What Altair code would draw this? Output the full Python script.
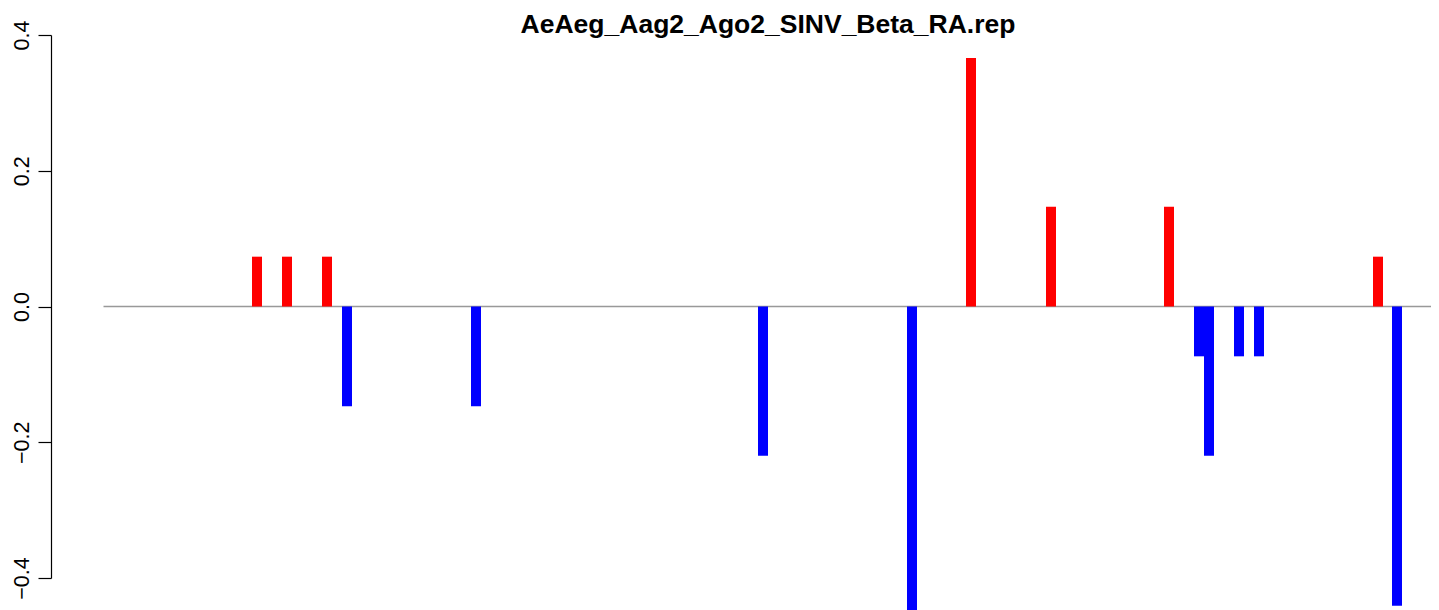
import altair as alt
import pandas as pd

title_text = ["AeAeg_Aag2_Ago2_SINV_Beta_RA.rep"]

# bar positions (horizontal position units) and values
positions = [206, 236, 276, 296, 425, 712, 861, 920, 1000, 1118, 1148, 1158, 1188, 1208, 1327, 1346]
values = [0.0734, 0.0734, 0.0734, -0.147, -0.147, -0.220, -0.450, 0.366, 0.147, 0.147,
          -0.0734, -0.220, -0.0734, -0.0734, 0.0734, -0.441]
strand = ["+" if v > 0 else "-" for v in values]

# baseline extent
zero_start = [52.5]
zero_end = [1381.7]

y_ticks = [-0.4, -0.2, 0.0, 0.2, 0.4]

bars_df = pd.DataFrame({"pos": positions, "value": values, "strand": strand})
zero_df = pd.DataFrame({"x1": zero_start, "x2": zero_end, "y": [0.0]})
title_df = pd.DataFrame({"t": title_text})

W = 1380
H = 543

xscale = alt.Scale(domain=[0, W], nice=False, zero=False, padding=0)
yscale = alt.Scale(domain=[-0.4, 0.4], nice=False, padding=0)

yaxis = alt.Axis(
    values=y_ticks,
    format=".1f",
    title=None,
    grid=False,
    labelAngle=270,
    labelAlign="center",
    labelBaseline="alphabetic",
    labelFont="Liberation Sans",
    labelFontSize=21.5,
    labelColor="black",
    labelPadding=10,
    tickSize=13,
    tickColor="black",
    tickWidth=1.2,
    domainColor="black",
    domainWidth=1.2,
    labelOverlap=False,
    labelFlush=False,
)

zero_line = alt.Chart(zero_df).mark_rule(color="#999999", strokeWidth=1.6).encode(
    x=alt.X("x1:Q", scale=xscale, axis=None),
    x2="x2:Q",
    y=alt.Y("y:Q", scale=yscale, axis=yaxis),
)

bars = alt.Chart(bars_df).mark_bar(size=10, clip=False).encode(
    x=alt.X("pos:Q", scale=xscale, axis=None),
    y=alt.Y("value:Q", scale=yscale, axis=yaxis),
    color=alt.Color("strand:N", scale=alt.Scale(domain=["+", "-"], range=["#FF0000", "#0000FF"]), legend=None),
)

title = alt.Chart(title_df).mark_text(
    font="Liberation Sans",
    fontSize=26.5,
    fontWeight="bold",
    color="black",
    align="center",
    baseline="alphabetic",
    clip=False,
).encode(text="t:N", x=alt.value(717), y=alt.value(-2.5))

chart = alt.layer(zero_line, bars, title).properties(
    width=W,
    height=H,
    background="white",
    autosize=alt.AutoSizeParams(type="none"),
    padding={"left": 43, "top": 27, "right": 0, "bottom": 42},
).configure_view(stroke=None)

chart.save("out.html", embed_options={"renderer": "svg", "actions": False})
